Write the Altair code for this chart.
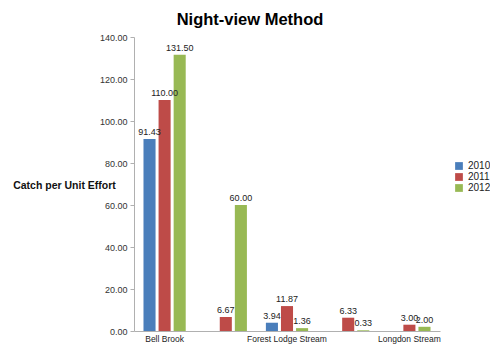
import altair as alt
import pandas as pd

categories = ["Bell Brook", " ", "Forest Lodge Stream", "  ", "Longdon Stream"]
years = ["2010", "2011", "2012"]
v2010 = [91.43, None, 3.94, None, None]
v2011 = [110.00, 6.67, 11.87, 6.33, 3.00]
v2012 = [131.50, 60.00, 1.36, 0.33, 2.00]
colors = ["#4a7ebb", "#be4b48", "#98b954"]
y_ticks = [0, 20, 40, 60, 80, 100, 120, 140]

rows = []
for yr, vals in zip(years, [v2010, v2011, v2012]):
    for c, v in zip(categories, vals):
        if v is not None:
            rows.append({"site": c, "year": yr, "value": v})
df = pd.DataFrame(rows)

x = alt.X("site:N", sort=categories, title=None,
          scale=alt.Scale(domain=categories, paddingInner=0.31, paddingOuter=0.155),
          axis=alt.Axis(labelAngle=0, ticks=False, domainColor="#b0b0b0",
                        labelFont="Liberation Sans", labelFontSize=8.5, labelColor="#222",
                        labelPadding=3))
xoff = alt.XOffset("year:N", scale=alt.Scale(domain=years, paddingInner=0.2))
y = alt.Y("value:Q", title="Catch per Unit Effort",
          scale=alt.Scale(domain=[0, 140], nice=False),
          axis=alt.Axis(values=y_ticks, format=".2f", grid=False, domainColor="#b0b0b0",
                        tickColor="#b0b0b0", tickSize=4, labelFont="Liberation Sans",
                        labelFontSize=9, labelColor="#333", labelPadding=3,
                        titleAngle=0, titleAlign="center", titleBaseline="middle",
                        titleX=-70, titleY=148, titleFont="Liberation Sans",
                        titleFontSize=10.5, titleFontWeight="bold", titleColor="#111"))
color = alt.Color("year:N", scale=alt.Scale(domain=years, range=colors),
                  legend=alt.Legend(title=None, orient="none", legendX=320, legendY=124,
                                    symbolType="square", symbolSize=60, symbolStrokeWidth=0,
                                    labelFont="Liberation Sans", labelFontSize=10,
                                    labelColor="#222", rowPadding=1, labelOffset=4))

bars = alt.Chart(df).mark_bar().encode(x=x, xOffset=xoff, y=y, color=color)
labels = alt.Chart(df).mark_text(dy=-7, font="Liberation Sans", fontSize=9, color="#222").encode(
    x=x, xOffset=xoff, y=y, text=alt.Text("value:Q", format=".2f"))

chart = (bars + labels).properties(
    width=306, height=294,
    title=alt.TitleParams("Night-view Method", font="Liberation Sans", fontSize=16.5,
                          fontWeight="bold", color="#000", anchor="middle", dx=-37, offset=5),
    autosize=alt.AutoSizeParams(type="none"),
    padding={"left": 126, "top": 29, "right": 50, "bottom": 18},
).configure_view(stroke=None)

chart.save("out.html", embed_options={"renderer": "svg", "actions": False})
